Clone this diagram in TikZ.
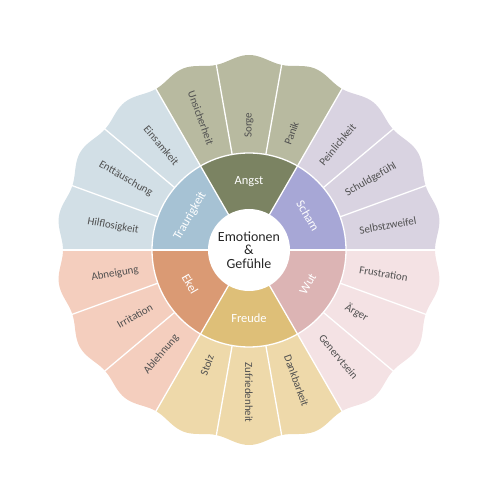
\documentclass[tikz,border=0pt]{standalone}
\usepackage{fontspec}
\setmainfont{Carlito}

% ring colours
\definecolor{schamM}{HTML}{A7A7D6}
\definecolor{schamO}{HTML}{D9D3E1}
\definecolor{angstM}{HTML}{7B8362}
\definecolor{angstO}{HTML}{B8BAA0}
\definecolor{traurM}{HTML}{A6C2D4}
\definecolor{traurO}{HTML}{D2DFE6}
\definecolor{ekelM}{HTML}{DA9A74}
\definecolor{ekelO}{HTML}{F4CEBE}
\definecolor{freudeM}{HTML}{DEBF78}
\definecolor{freudeO}{HTML}{EED9AA}
\definecolor{wutM}{HTML}{DCB4B4}
\definecolor{wutO}{HTML}{F4E2E4}
\definecolor{lblgray}{HTML}{505050}

\tikzset{
  sepline/.style={draw=white,line width=1.3bp},
  outerlbl/.style={font=\fontsize{11}{12}\selectfont,text=lblgray,inner sep=0pt},
  midlbl/.style={font=\fontsize{12.5}{13}\selectfont,text=white,inner sep=0pt},
  centerlbl/.style={font=\fontsize{14}{13.5}\selectfont,text=black!85,align=center,inner sep=0pt}
}

\begin{document}
\begin{tikzpicture}[x=1bp,y=1bp,
  declare function={wave(\t)=190.5+3.2*cos(18*(\t-90))+1.3*cos(6*(\t-90));}]
\useasboundingbox (-249,-250) rectangle (251,250);

% outer ring, wavy edge
\foreach \a/\col [evaluate=\a as \b using int(\a+60)] in {0/schamO,60/angstO,120/traurO,180/ekelO,240/freudeO,300/wutO}
  \fill[\col] (0,0) -- plot[domain=\a:\b,samples=61,smooth] (\x:{wave(\x)}) -- cycle;

% middle ring
\foreach \a/\col in {0/schamM,60/angstM,120/traurM,180/ekelM,240/freudeM,300/wutM}
  \fill[\col] (0,0) -- (\a:97) arc[start angle=\a,delta angle=60,radius=97bp] -- cycle;

% white separators
\foreach \a in {0,20,...,340}
  \draw[sepline] (\a:97) -- (\a:{wave(\a)+3});
\foreach \a in {0,60,...,300}
  \draw[sepline] (0,0) -- (\a:97);
\draw[sepline] (0,0) circle[radius=97bp];
\fill[white] (0,0) circle[radius=41bp];

\node[centerlbl] (center) at (0,0) {Emotionen\\\&\\Gefühle};

\foreach \a/\t/\r in {30/Scham/-60,90/Angst/0,150/Traurigkeit/60,210/Ekel/-60,270/Freude/0,330/Wut/60}
  \node[midlbl,rotate=\r] (m\a) at (\a:68) {\t};

\foreach \a/\t/\r/\anc in {10/Selbstzweifel/10/west,30/Schuldgefühl/30/west,50/Peinlichkeit/50/west,
    70/Panik/70/west,90/Sorge/90/west,110/Unsicherheit/-70/east,
    130/Einsamkeit/-50/east,150/Enttäuschung/-30/east,170/Hilflosigkeit/-10/east,
    190/Abneigung/10/east,210/Irritation/30/east,230/Ablehnung/50/east,
    250/Stolz/70/east,270/Zufriedenheit/-90/west,290/Dankbarkeit/-70/west,
    310/Genervtsein/-50/west,330/Ärger/-30/west,350/Frustration/-10/west}
  \node[outerlbl,anchor=\anc,rotate=\r] (o\a) at (\a:112) {\t};

\end{tikzpicture}
\end{document}
